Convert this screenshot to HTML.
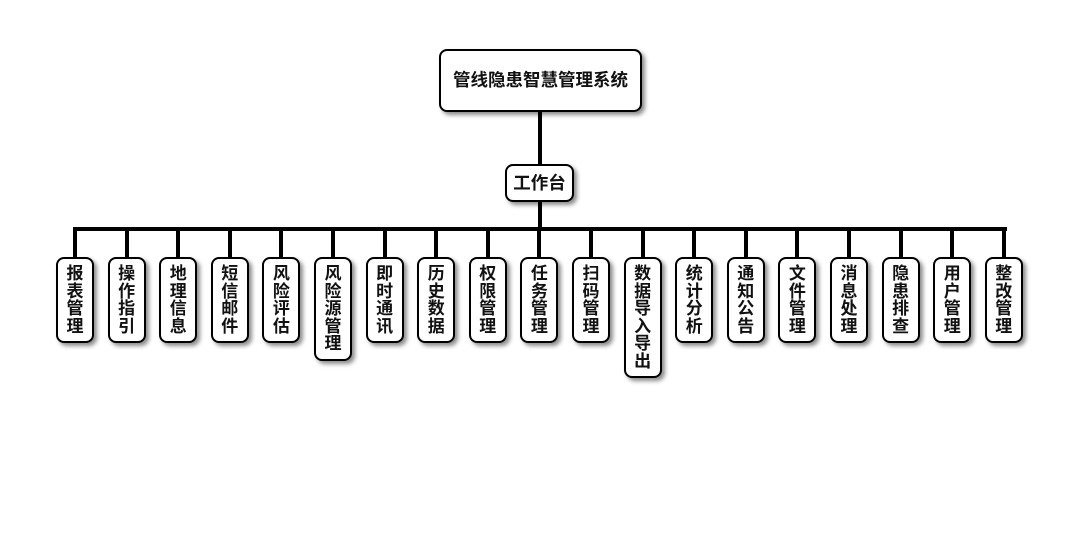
<!DOCTYPE html>
<html><head><meta charset="utf-8"><style>
body{margin:0;width:1080px;height:560px;background:#fff;position:relative;overflow:hidden;font-family:"Liberation Sans","Noto Sans CJK SC",sans-serif;font-weight:bold;color:#111}
.b{position:absolute;background:#fff;border:2px solid #000;border-radius:8px;box-shadow:3px 3px 4px rgba(0,0,0,.45);box-sizing:border-box;text-align:center}
.v{width:38px;top:257px;font-size:17px;line-height:17.5px;padding-top:6px}
.l{position:absolute;background:#000}
</style></head><body>
<div class="b" style="left:439px;top:49px;width:203px;height:63px;line-height:59px;font-size:17.5px">管线隐患智慧管理系统</div>
<div class="l" style="left:538px;top:112px;width:4px;height:52px"></div>
<div class="b" style="left:505px;top:164px;width:69px;height:38px;line-height:34px;font-size:17.5px">工作台</div>
<div class="l" style="left:538px;top:202px;width:4px;height:28px"></div>
<div class="l" style="left:73px;top:227px;width:934px;height:4px"></div>
<div id="c"></div>
<script>
var n=["报表管理","操作指引","地理信息","短信邮件","风险评估","风险源管理","即时通讯","历史数据","权限管理","任务管理","扫码管理","数据导入导出","统计分析","通知公告","文件管理","消息处理","隐患排查","用户管理","整改管理"];
var h="";
n.forEach(function(t,i){var cx=75+i*51.6;var H=16+t.length*17.5;
h+='<div class="l" style="left:'+(cx-2)+'px;top:229px;width:4px;height:28px"></div>';
h+='<div class="b v" style="left:'+(cx-19)+'px;height:'+H+'px">'+t.split("").join("<br>")+'</div>';});
document.getElementById("c").innerHTML=h;
</script>
</body></html>
